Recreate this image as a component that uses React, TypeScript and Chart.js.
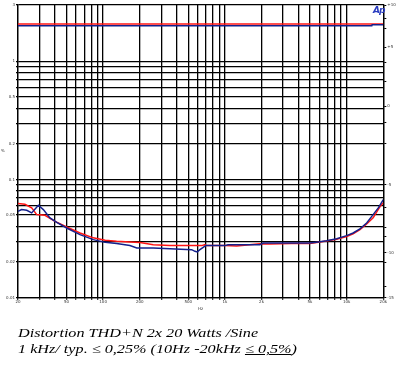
import { useEffect, useRef } from "react";
import { Chart, registerables } from "chart.js";

Chart.register(...registerables);

// ---- data (Hz, THD+N %) ----
const redFreq = [20, 22.8, 25.9, 28.5, 33.3, 40.3, 50.2, 64.6, 83, 104, 129, 166, 201, 258, 354, 644, 686, 699, 1000, 1250, 1940, 2345, 3530, 4990, 5850, 6840, 8280, 10000, 11300, 12860, 14600, 16500, 18800, 20000];
const redThd = [0.0626, 0.0618, 0.0576, 0.0505, 0.0498, 0.0443, 0.0397, 0.0353, 0.0321, 0.0306, 0.03, 0.0296, 0.0293, 0.0281, 0.0276, 0.0276, 0.0281, 0.0276, 0.0277, 0.0274, 0.0286, 0.0285, 0.0287, 0.0287, 0.0295, 0.0302, 0.0313, 0.033, 0.0348, 0.0377, 0.042, 0.0474, 0.059, 0.0635];

const blueFreq = [20, 21.4, 23.6, 25.9, 29.4, 32.3, 36.6, 41.6, 50.2, 64.6, 83, 104, 129, 166, 189, 258, 354, 534, 568, 593, 624, 664, 699, 730, 1000, 1060, 1940, 2065, 2660, 3530, 4990, 5850, 6840, 8280, 10000, 11300, 12860, 14600, 16500, 18200, 20000];
const blueThd = [0.0539, 0.0557, 0.0549, 0.0522, 0.0606, 0.0557, 0.0474, 0.0434, 0.0389, 0.0342, 0.031, 0.0294, 0.0287, 0.0276, 0.0264, 0.0264, 0.0259, 0.0255, 0.0247, 0.0244, 0.0255, 0.0267, 0.0277, 0.0276, 0.0276, 0.0281, 0.0281, 0.029, 0.029, 0.0291, 0.0291, 0.0296, 0.0304, 0.0316, 0.0335, 0.0353, 0.0382, 0.0429, 0.0505, 0.0575, 0.0677];

const redTopFreq = [20, 20000];
const redTopThd = [2.07, 2.07];
const blueTopFreq = [20, 16100, 16200, 20000];
const blueTopThd = [2.0, 2.0, 2.04, 2.04];

// ---- axes ----
const xGridFreqs = [20, 30, 40, 50, 60, 70, 80, 90, 100, 200, 300, 400, 500, 600, 700, 800, 900, 1000, 2000, 3000, 4000, 5000, 6000, 7000, 8000, 9000, 10000, 20000];
const xLabelFreqs = [20, 50, 100, 200, 500, 1000, 2000, 5000, 10000, 20000];
const xLabelTexts = ["20", "50", "100", "200", "500", "1k", "2k", "5k", "10k", "20k"];

const yGridValues = [0.01, 0.02, 0.03, 0.04, 0.05, 0.06, 0.07, 0.08, 0.09, 0.1, 0.2, 0.3, 0.4, 0.5, 0.6, 0.7, 0.8, 0.9, 1, 3];
const yLabelValues = [0.01, 0.02, 0.05, 0.1, 0.2, 0.5, 1, 2, 3];
const yLabelTexts = ["0.01", "0.02", "0.05", "0.1", "0.2", "0.5", "1", "2", "3"];

const y2TickValues = [0.01, 0.0124, 0.0198, 0.024, 0.0329, 0.039, 0.058, 0.0907, 0.202, 0.302, 0.418, 0.681, 0.986, 1.32, 1.89, 2.3, 3];
const y2LabelValues = [3, 1.32, 0.418, 0.0907, 0.024, 0.01];
const y2LabelTexts = ["+10", "+5", "0", "-5", "-10", "-15"];

const toPoints = (f: number[], v: number[]) => f.map((x, i) => ({ x, y: v[i] }));
const near = (a: number, b: number) => Math.abs(a - b) / b < 1e-6;

export default function App() {
  const ref = useRef<HTMLCanvasElement>(null);

  useEffect(() => {
    const tickFont = { size: 4, family: "DejaVu Sans" };
    const chart = new Chart(ref.current!, {
      type: "line",
      data: {
        datasets: [
          { data: toPoints(blueFreq, blueThd), borderColor: "#14208c", borderWidth: 1.5, pointRadius: 0, tension: 0 },
          { data: toPoints(redFreq, redThd), borderColor: "#ff1414", borderWidth: 1.5, pointRadius: 0, tension: 0 },
          { data: toPoints(blueTopFreq, blueTopThd), borderColor: "#14208c", borderWidth: 1.5, pointRadius: 0, tension: 0 },
          { data: toPoints(redTopFreq, redTopThd), borderColor: "#ff1414", borderWidth: 1.5, pointRadius: 0, tension: 0 },
        ],
      },
      options: {
        animation: false,
        responsive: true,
        maintainAspectRatio: false,
        layout: { padding: { top: 5, left: 0, right: 0, bottom: 0 } },
        plugins: { legend: { display: false }, tooltip: { enabled: false } },
        scales: {
          x: {
            type: "logarithmic",
            min: 20,
            max: 20000,
            afterBuildTicks: (s: any) => {
              s.ticks = xGridFreqs.map((value) => ({ value }));
            },
            afterFit: (s: any) => {
              s.height = 14.3;
            },
            grid: { color: "#000", lineWidth: 1.3, tickLength: 2 },
            border: { display: true, color: "#000", width: 1.3 },
            ticks: {
              autoSkip: false,
              maxRotation: 0,
              padding: 0,
              color: "#333",
              font: tickFont,
              callback: (v: any) => {
                const i = xLabelFreqs.findIndex((f) => near(Number(v), f));
                return i >= 0 ? xLabelTexts[i] : "";
              },
            },
          },
          y: {
            type: "logarithmic",
            position: "left",
            min: 0.01,
            max: 3,
            afterBuildTicks: (s: any) => {
              s.ticks = yGridValues.map((value) => ({ value }));
            },
            afterFit: (s: any) => {
              s.width = 18;
            },
            grid: { color: "#000", lineWidth: 1.3, tickLength: 2 },
            border: { display: true, color: "#000", width: 1.3 },
            ticks: {
              autoSkip: false,
              padding: 1,
              color: "#333",
              font: tickFont,
              callback: (v: any) => {
                const i = yLabelValues.findIndex((f) => near(Number(v), f));
                return i >= 0 ? yLabelTexts[i] : "";
              },
            },
          },
          y2: {
            type: "logarithmic",
            position: "right",
            min: 0.01,
            max: 3,
            afterBuildTicks: (s: any) => {
              s.ticks = y2TickValues.map((value) => ({ value }));
            },
            afterFit: (s: any) => {
              s.width = 18.7;
            },
            grid: { drawOnChartArea: false, color: "#000", lineWidth: 1, tickLength: 3 },
            border: { display: true, color: "#000", width: 1.3 },
            ticks: {
              autoSkip: false,
              padding: 1,
              color: "#333",
              font: tickFont,
              callback: (v: any) => {
                const i = y2LabelValues.findIndex((f) => near(Number(v), f));
                return i >= 0 ? y2LabelTexts[i] : "";
              },
            },
          },
        },
      },
    });
    return () => chart.destroy();
  }, []);

  return (
    <div style={{ position: "fixed", left: 0, top: 0, width: 402, height: 366, background: "#fff", overflow: "hidden" }}>
      <div style={{ position: "absolute", left: 0, top: 0, width: 402, height: 312 }}>
        <canvas ref={ref} />
      </div>
      <div style={{ position: "absolute", left: 373, top: 5, color: "#2a3cc0", font: "italic bold 9px 'DejaVu Sans'", lineHeight: "10px", letterSpacing: "-1px" }}>Ap</div>
      <div style={{ position: "absolute", left: 198, top: 306, color: "#333", font: "4px 'DejaVu Sans'", lineHeight: "5px" }}>Hz</div>
      <div style={{ position: "absolute", left: 1, top: 148, color: "#333", font: "4px 'DejaVu Sans'", lineHeight: "5px" }}>%</div>
      <div
        style={{
          position: "absolute",
          left: 18,
          top: 325,
          font: "italic 12.5px 'Liberation Serif'",
          lineHeight: "16px",
          color: "#000",
          whiteSpace: "nowrap",
          transform: "scaleX(1.295)",
          transformOrigin: "left top",
        }}
      >
        <div>Distortion THD+N 2x 20 Watts /Sine</div>
        <div>
          1 kHz/ typ. ≤ 0,25% (10Hz -20kHz <span style={{ textDecoration: "underline" }}>≤ 0,5%</span>)
        </div>
      </div>
    </div>
  );
}
